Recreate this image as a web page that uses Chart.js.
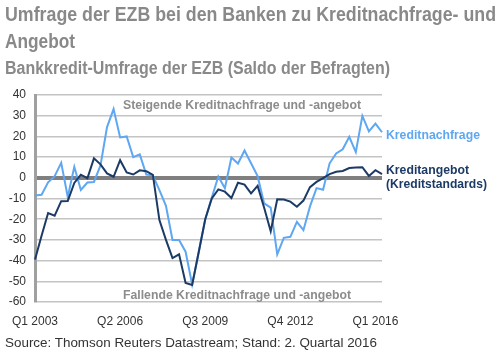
<!DOCTYPE html>
<html><head><meta charset="utf-8">
<script src="https://cdn.jsdelivr.net/npm/chart.js@4.4.1/dist/chart.umd.min.js"></script>
<style>
html,body{margin:0;padding:0;background:#fff;}
#wrap{position:relative;width:500px;height:356px;overflow:hidden;}
#c{position:absolute;left:0;top:0;}
.t{position:absolute;white-space:nowrap;line-height:1;transform-origin:0 0;}
.nar{font-family:'Liberation Sans Narrow','Arial Narrow','Liberation Sans',Arial,sans-serif;font-weight:bold;color:#898989;}
.ann{font-family:'Liberation Sans',Arial,sans-serif;font-weight:bold;}
</style></head><body>
<div id="wrap">
<canvas id="c" width="500" height="356"></canvas>
<div class="t fit nar" data-x="5" data-y="4" data-w="491" style="font-size:20px">Umfrage der EZB bei den Banken zu Kreditnachfrage- und</div>
<div class="t fit nar" data-x="5" data-y="31" data-w="70" style="font-size:20px">Angebot</div>
<div class="t fit nar" data-x="5" data-y="59" data-w="385" style="font-size:18px">Bankkredit-Umfrage der EZB (Saldo der Befragten)</div>
<div class="t fit ann" data-x="123" data-y="98.8" data-w="238" style="font-size:12.5px;color:#8c8c8c">Steigende Kreditnachfrage und -angebot</div>
<div class="t fit ann" data-x="123" data-y="288.8" data-w="228" style="font-size:12.5px;color:#8c8c8c">Fallende Kreditnachfrage und -angebot</div>
<div class="t fit ann" data-x="386" data-y="127.8" data-w="94" style="font-size:13px;color:#5ea7f2">Kreditnachfrage</div>
<div class="t fit ann" data-x="386" data-y="163.4" data-w="83" style="font-size:13px;color:#1c3a66">Kreditangebot</div>
<div class="t fit ann" data-x="386" data-y="177" data-w="101" style="font-size:13px;color:#1c3a66">(Kreditstandards)</div>
<div class="t fit" data-x="5" data-y="335.3" data-w="372" style="font:13px 'Liberation Sans',Arial,sans-serif;color:#333">Source: Thomson Reuters Datastream; Stand: 2. Quartal 2016</div>
</div>
<script>
// ---- data ----
const startYear = 2003;
const quarters = [];
for (let i = 0; i < 54; i++) {
  quarters.push('Q' + (i % 4 + 1) + ' ' + (startYear + Math.floor(i / 4)));
}
const tickLabels = ['Q1 2003', 'Q2 2006', 'Q3 2009', 'Q4 2012', 'Q1 2016'];
const yTicks = [40, 30, 20, 10, 0, -10, -20, -30, -40, -50, -60];
const kreditnachfrage = [
  -8.5, -8.2, -2.2, 0.8, 7.2, -9.3, 5.3, -5.9, -2.3, -2,
  6, 24.5, 33.2, 19.5, 20, 10, 11.3, 1.6, 1.2, -6,
  -13.5, -30, -30, -35.7, -51.5, -36, -20, -9.5, 0.6, -5,
  9.8, 6.9, 13.2, 7, 0.8, -12.4, -14.4, -37, -29, -28.5,
  -21.3, -25.3, -13.8, -5, -5.8, 7, 11.8, 13.8, 19.8, 12.4,
  29.9, 22.4, 26.2, 22
];
const kreditangebot = [
  -39.5, -28, -17, -18.3, -11.3, -11.2, -2.5, 1.5, -0.2, 9.4,
  6.5, 2.1, 0.5, 8.5, 2.6, 1.6, 3.6, 3.2, 1.4, -20.4,
  -30, -38.8, -37, -50.8, -51.8, -36, -20, -10, -5.6, -6.7,
  -9.8, -2.4, -3.3, -7.5, -3.9, -14.5, -25.8, -10.4, -10.5, -11.5,
  -14, -11, -4.5, -2, -0.2, 1.8, 2.9, 3.3, 4.7, 5,
  5.1, 0.9, 3.7, 1.8
];

// ---- chart ----
new Chart(document.getElementById('c'), {
  type: 'line',
  data: {
    labels: quarters,
    datasets: [
      { label: 'Kreditangebot (Kreditstandards)', data: kreditangebot, borderColor: '#1c3a66', borderWidth: 2, pointRadius: 0, tension: 0, fill: false },
      { label: 'Kreditnachfrage', data: kreditnachfrage, borderColor: '#5ea7f2', borderWidth: 2, pointRadius: 0, tension: 0, fill: false }
    ]
  },
  options: {
    responsive: false,
    animation: false,
    devicePixelRatio: 1,
    layout: { padding: { top: 95, right: 118, bottom: 0, left: 0 } },
    plugins: { legend: { display: false }, tooltip: { enabled: false }, title: { display: false } },
    scales: {
      x: {
        type: 'category',
        offset: false,
        grid: { display: false, drawTicks: false },
        border: { display: false },
        afterFit: s => { s.height = 54; },
        ticks: {
          autoSkip: false, maxRotation: 0, minRotation: 0, padding: 12,
          color: '#333', font: { family: "'Liberation Sans', Arial, sans-serif", size: 12 },
          callback: function (v, i) { const l = quarters[i]; return tickLabels.includes(l) ? l : null; }
        }
      },
      y: {
        min: -60, max: 40,
        afterFit: s => { s.width = 35; },
        afterBuildTicks: s => { s.ticks = yTicks.map(v => ({ value: v })); },
        grid: {
          drawTicks: false,
          color: c => (c.tick && c.tick.value === 0) ? '#7f7f7f' : '#c4c4c4',
          lineWidth: c => (c.tick && c.tick.value === 0) ? 4 : 1.5
        },
        border: { display: true, color: '#a0a0a0', width: 3 },
        ticks: {
          padding: 9, color: '#333', font: { family: "'Liberation Sans', Arial, sans-serif", size: 12 }
        }
      }
    }
  }
});

// ---- text fitting ----
document.querySelectorAll('.fit').forEach(el => {
  el.style.left = el.dataset.x + 'px';
  el.style.top = el.dataset.y + 'px';
  const w = el.getBoundingClientRect().width;
  const s = parseFloat(el.dataset.w) / w;
  el.style.transform = 'scaleX(' + s + ')';
});
</script>
</body></html>
